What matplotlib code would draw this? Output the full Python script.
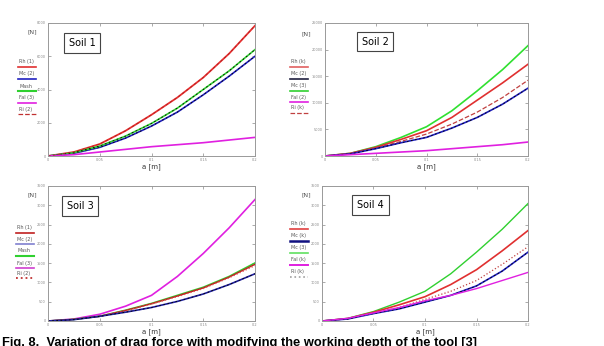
import numpy as np
import matplotlib
matplotlib.use("Agg")
import matplotlib.pyplot as plt
from matplotlib.lines import Line2D

# working depth a [m]
a = [0, 0.025, 0.05, 0.075, 0.1, 0.125, 0.15, 0.175, 0.2]

# Soil 1 drag force [N]
s1_rh = [0, 240, 720, 1520, 2480, 3520, 4720, 6160, 7840]
s1_mc = [0, 160, 520, 1080, 1800, 2640, 3680, 4800, 6000]
s1_mash = [0, 200, 600, 1200, 1960, 2880, 4000, 5120, 6400]
s1_fal = [0, 80, 240, 400, 560, 680, 800, 960, 1120]
s1_ri = [0, 240, 720, 1520, 2480, 3520, 4720, 6160, 7840]

# Soil 2
s2_rh = [0, 500, 1625, 3125, 4750, 7250, 10500, 13750, 17250]
s2_mc = [0, 400, 1375, 2500, 3500, 5250, 7250, 9750, 12750]
s2_mash = [0, 500, 1750, 3500, 5500, 8500, 12250, 16250, 20750]
s2_fal = [0, 250, 500, 750, 1000, 1375, 1750, 2125, 2625]
s2_ri = [0, 450, 1500, 2750, 4125, 6000, 8250, 11000, 14250]

# Soil 3
s3_rh = [0, 42, 122, 273, 448, 648, 858, 1138, 1470]
s3_mc = [0, 35, 122, 228, 350, 508, 700, 945, 1225]
s3_mash = [0, 42, 122, 280, 455, 665, 875, 1155, 1505]
s3_fal = [0, 52, 175, 385, 665, 1155, 1750, 2415, 3150]
s3_ri = [0, 42, 122, 262, 438, 630, 840, 1120, 1435]

# Soil 4
s4_rh = [0, 63, 228, 420, 630, 945, 1330, 1820, 2345]
s4_mc = [0, 52, 192, 315, 490, 665, 910, 1295, 1785]
s4_mash = [0, 70, 245, 490, 770, 1225, 1785, 2380, 3045]
s4_fal = [0, 70, 210, 350, 525, 665, 840, 1050, 1260]
s4_ri = [0, 60, 210, 350, 560, 770, 1050, 1470, 1925]

labels1 = ["Rh (1)", "Mc (2)", "Mash", "Fal (3)", "Ri (2)"]
labels2 = ["Rh (k)", "Mc (2)", "Mc (3)", "Fal (2)", "Ri (k)"]
labels3 = ["Rh (1)", "Mc (2)", "Mash", "Fal (3)", "Ri (2)"]
labels4 = ["Rh (k)", "Mc (k)", "Mc (3)", "Fal (k)", "Ri (k)"]

W, H = 604, 346
fig = plt.figure(figsize=(W / 100, H / 100), dpi=100)
fig.patch.set_facecolor("white")


def px_axes(l, t, r, b):
    return fig.add_axes([l / W, (H - b) / H, (r - l) / W, (b - t) / H])


def style(ax, ymax, nticks):
    ax.set_xlim(0, 0.2)
    ax.set_ylim(0, ymax)
    ax.set_xticks([0, 0.05, 0.1, 0.15, 0.2])
    ax.set_xticklabels(["0", "0.05", "0.1", "0.15", "0.2"])
    ax.set_yticks(np.linspace(0, ymax, nticks + 1))
    ax.set_yticklabels([str(int(v)) for v in np.linspace(0, ymax, nticks + 1)])
    ax.tick_params(direction="in", length=2, width=0.5, labelsize=2.5,
                   colors="#888888", top=True, right=True, pad=1.5)
    for s in ax.spines.values():
        s.set_color("#999999")
        s.set_linewidth(0.7)
    ax.set_xlabel("a [m]", fontsize=5, labelpad=1, color="#333333")


def legend(x0, ys, labels, styles):
    for y, lab, (c, ls, lw) in zip(ys, labels, styles):
        fig.text(x0 / W, 1 - y / H, lab, fontsize=3.5, color="#555555",
                 ha="left", va="center")
        fig.add_artist(Line2D([(x0 - 1) / W, (x0 + 17) / W],
                              [1 - (y + 5) / H, 1 - (y + 5) / H],
                              color=c, ls=ls, lw=lw, transform=fig.transFigure))


def soil_box(ax, text, x, y):
    ax.text(x, y, text, transform=ax.transAxes, fontsize=7, ha="left",
            va="center", bbox=dict(boxstyle="square,pad=0.5", fc="white",
                                   ec="#444444", lw=0.8))


# panel 1
ax1 = px_axes(48, 23, 255, 156)
ax1.plot(a, s1_rh, color="#e83030", lw=1.3)
ax1.plot(a, s1_mc, color="#2020c0", lw=1.2)
ax1.plot(a, s1_mc, color="black", lw=0.6, ls=(0, (2, 3)))
ax1.plot(a, s1_mash, color="#30d030", lw=1.2)
ax1.plot(a, s1_mash, color="black", lw=0.6, ls=(0, (2, 3)))
ax1.plot(a, s1_fal, color="#e020e0", lw=1.2)
ax1.plot(a, s1_ri, color="#b02020", lw=0.6, ls=(0, (3, 3)))
style(ax1, 8000, 4)
soil_box(ax1, "Soil 1", 0.1, 0.85)
fig.text(28 / W, 1 - 33 / H, "[N]", fontsize=4.5, color="#555555")
legend(19, [62, 74, 86, 98, 109], labels1,
       [("#e03030", "-", 1.2), ("#2020c0", "-", 1.2), ("#30d030", "-", 1.5),
        ("#e020e0", "-", 1.2), ("#c03030", "--", 0.9)])

# panel 2
ax2 = px_axes(325, 23, 528, 156)
ax2.plot(a, s2_mash, color="#30e030", lw=1.2)
ax2.plot(a, s2_rh, color="#e03030", lw=1.2)
ax2.plot(a, s2_ri, color="#c04040", lw=0.9, ls="--")
ax2.plot(a, s2_mc, color="#2020c0", lw=1.2)
ax2.plot(a, s2_mc, color="black", lw=0.6, ls=(0, (2, 3)))
ax2.plot(a, s2_fal, color="#e020e0", lw=1.2)
style(ax2, 25000, 5)
soil_box(ax2, "Soil 2", 0.18, 0.86)
fig.text(302 / W, 1 - 35 / H, "[N]", fontsize=4.5, color="#555555")
legend(291, [62, 74, 86, 97, 108], labels2,
       [("#e06060", "-", 1.2), ("#202040", "-", 1.2), ("#30d030", "-", 1.2),
        ("#e020e0", "-", 1.2), ("#c04040", "--", 0.9)])

# panel 3
ax3 = px_axes(48, 186, 255, 321)
ax3.plot(a, s3_fal, color="#e020e0", lw=1.2)
ax3.plot(a, s3_mash, color="#30d030", lw=1.2)
ax3.plot(a, s3_rh, color="#c02020", lw=1.0)
ax3.plot(a, s3_ri, color="#e05050", lw=0.9, ls=":")
ax3.plot(a, s3_mc, color="#2020a0", lw=1.2)
ax3.plot(a, s3_mc, color="black", lw=0.6, ls=(0, (2, 3)))
style(ax3, 3500, 7)
soil_box(ax3, "Soil 3", 0.09, 0.85)
fig.text(27 / W, 1 - 196 / H, "[N]", fontsize=4.5, color="#555555")
legend(17, [228, 239, 251, 263, 273], labels3,
       [("#c02020", "-", 1.2), ("#8080d0", "-", 1.2), ("#30d030", "-", 1.5),
        ("#d040d0", "-", 1.2), ("#c03030", ":", 1.3)])

# panel 4
ax4 = px_axes(322, 186, 528, 321)
ax4.plot(a, s4_mash, color="#30d030", lw=1.0)
ax4.plot(a, s4_rh, color="#e03030", lw=1.2)
ax4.plot(a, s4_ri, color="#c04040", lw=0.9, ls=":")
ax4.plot(a, s4_mc, color="#2020c0", lw=1.2)
ax4.plot(a, s4_mc, color="black", lw=0.6, ls=(0, (2, 3)))
ax4.plot(a, s4_fal, color="#e020e0", lw=1.0)
style(ax4, 3500, 7)
soil_box(ax4, "Soil 4", 0.17, 0.86)
fig.text(302 / W, 1 - 196 / H, "[N]", fontsize=4.5, color="#555555")
legend(291, [224, 236, 248, 260, 272], labels4,
       [("#e04040", "-", 1.2), ("#101080", "-", 1.8), ("#60e060", "-", 1.2),
        ("#e020e0", "-", 1.4), ("#a0a0a0", ":", 1.2)])

fig.text(2 / W, 1 - 337 / H,
         "Fig. 8.  Variation of drag force with modifying the working depth of the tool [3]",
         fontsize=9.3, fontweight="bold", ha="left", va="top",
         family="Liberation Sans")

fig.savefig("out.png", dpi=100)
